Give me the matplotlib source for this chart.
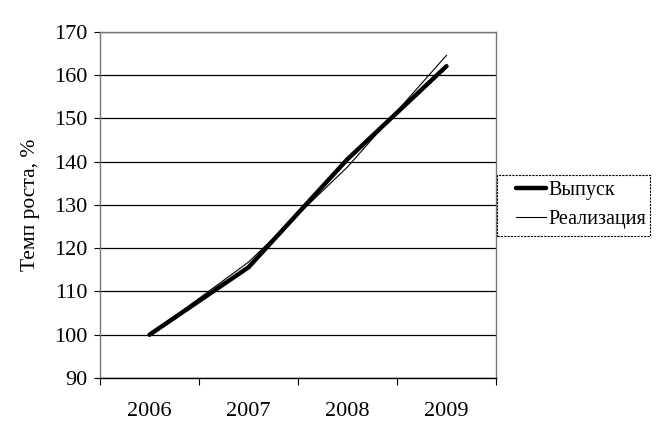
import numpy as np
import matplotlib.pyplot as plt
from matplotlib.patches import Rectangle

plt.rcParams['font.family'] = ['Liberation Serif', 'DejaVu Serif']

years = ['2006', '2007', '2008', '2009']
vypusk = [100, 115.6, 140.6, 162.1]
realizatsiya = [100, 116.8, 138.8, 164.6]

fig = plt.figure(figsize=(6.6, 4.43), dpi=100)
ax = fig.add_axes([100/660, 65/443, 396/660, 346/443])

x = np.arange(len(years))
ax.plot(x, vypusk, color='black', lw=3.2, solid_capstyle='round', label='Выпуск', zorder=3)
ax.plot(x, realizatsiya, color='black', lw=0.8, label='Реализация', zorder=4)

ax.set_ylim(90, 170)
ax.set_xlim(-0.5, 3.5)
ax.set_yticks(range(90, 171, 10))
ax.yaxis.grid(True, color='black', lw=0.9)
ax.set_axisbelow(True)

ax.set_xticks(np.arange(-0.5, 3.6, 1))
ax.set_xticklabels([])
ax.set_xticks(x, minor=True)
ax.set_xticklabels(years, minor=True)
ax.tick_params(axis='x', which='major', length=5, width=0.8, direction='out')
ax.tick_params(axis='x', which='minor', length=0, pad=17, labelsize=16)
ax.tick_params(axis='y', length=4, width=0.8, labelsize=16, pad=5)

for side in ['left', 'top', 'right']:
    ax.spines[side].set_linestyle((0, (2, 1)))
    ax.spines[side].set_color('#777777')
    ax.spines[side].set_linewidth(1)
ax.spines['bottom'].set_color('black')
ax.spines['bottom'].set_linewidth(1)

ax.set_ylabel('Темп роста, %', fontsize=15.5, labelpad=10)

# legend frame drawn separately so the entries sit further right
box = Rectangle((497/660, 1 - 236/443), 153/660, 61/443, transform=fig.transFigure,
                fill=False, edgecolor='black', lw=0.8, linestyle=(0, (2, 1)))
fig.patches.append(box)
leg = fig.legend(loc='upper left', bbox_to_anchor=(512/660, 1 - 177/443),
                 fontsize=14.5, frameon=False, handlelength=1.5,
                 handletextpad=0.1, borderpad=0.2, labelspacing=0.5,
                 borderaxespad=0)

plt.savefig('out.png', dpi=100)
